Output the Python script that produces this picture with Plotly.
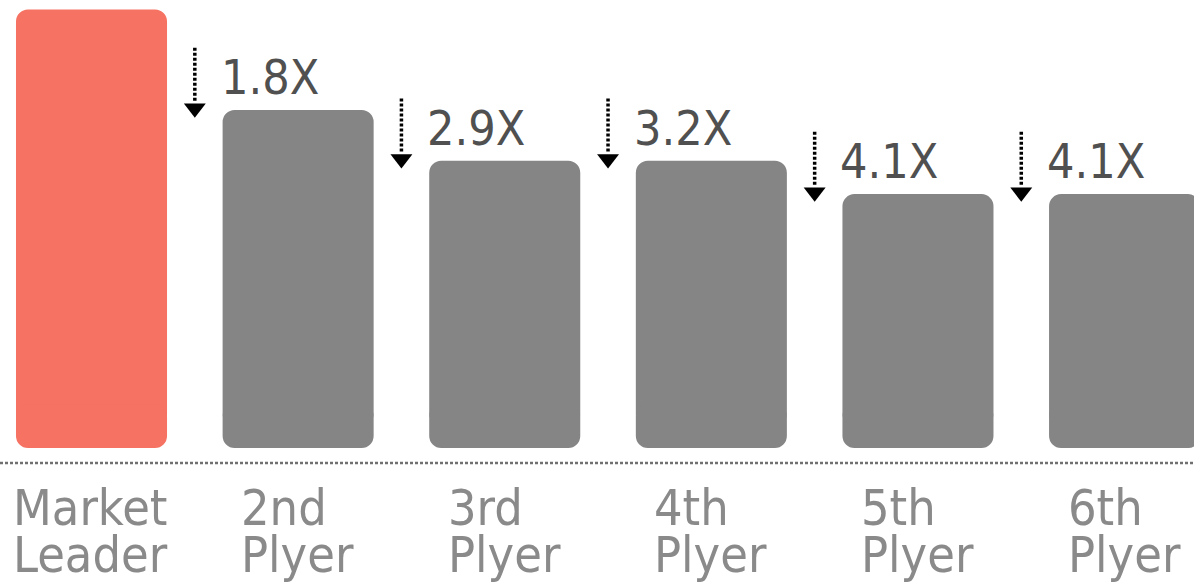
import plotly.graph_objects as go

# ---- data ----
categories = ["Market Leader", "2nd Plyer", "3rd Plyer", "4th Plyer", "5th Plyer", "6th Plyer"]
label_line1 = ["Market", "2nd", "3rd", "4th", "5th", "6th"]
label_line2 = ["Leader", "Plyer", "Plyer", "Plyer", "Plyer", "Plyer"]
values = [100, 77.1, 65.5, 65.5, 57.9, 57.9]
multipliers = ["", "1.8X", "2.9X", "3.2X", "4.1X", "4.1X"]

# ---- style ----
FONT = "DejaVu Sans Condensed, Liberation Sans Narrow, sans-serif"
LEADER_COLOR = "#F67262"
OTHER_COLOR = "#868586"
BAR_W = 0.731
W, H = 1194, 587
YR = [-31.7, 102.17]
XR = [-0.4429, 5.336]

x = list(range(len(categories)))
colors = [LEADER_COLOR] + [OTHER_COLOR] * (len(categories) - 1)

fig = go.Figure()
BOT = 10  # height of bottom-rounded part
fig.add_trace(go.Bar(x=x, y=[v - BOT / 2 for v in values], base=BOT / 2, width=BAR_W,
                     marker=dict(color=colors, cornerradius=12, line=dict(width=0)),
                     hoverinfo="skip", showlegend=False))
fig.add_trace(go.Bar(x=x, y=[-BOT] * len(values), base=BOT, width=BAR_W,
                     marker=dict(color=colors, cornerradius=12, line=dict(width=0)),
                     hoverinfo="skip", showlegend=False))

# arrows between bars
for i in range(1, len(values)):
    v = values[i]
    xa = i - 0.5
    fig.add_trace(go.Scatter(x=[xa, xa], y=[v + 14.2, v + 2.0], mode="lines",
                             line=dict(color="black", width=3.5, dash="3px,2px"),
                             hoverinfo="skip", showlegend=False))
    fig.add_trace(go.Scatter(x=[xa], y=[v + 0.4], mode="markers",
                             marker=dict(symbol="triangle-down", size=19, color="black",
                                         line=dict(width=0)),
                             hoverinfo="skip", showlegend=False))
    fig.add_annotation(x=i - BAR_W / 2, y=v, xref="x", yref="y", text=multipliers[i],
                       xanchor="left", yanchor="bottom", xshift=-4, yshift=3, showarrow=False,
                       font=dict(family=FONT, size=48, color="#505050"))

# baseline dotted line
fig.add_shape(type="line", xref="paper", yref="y", x0=0, x1=1, y0=-3.4, y1=-3.4,
              line=dict(color="#707070", width=2.5, dash="3px,2px"))

# category labels (two lines, left aligned, block centered)
block_w = [156, 112, 112, 112, 112, 112]
for i in range(len(categories)):
    for line_txt, ypx in ((label_line1[i], 527), (label_line2[i], 574)):
        fig.add_annotation(x=i, y=1 - (ypx + 12) / H, xref="x", yref="paper",
                           text=line_txt, xanchor="left", yanchor="bottom",
                           xshift=-block_w[i] / 2 - 3, align="left", showarrow=False,
                           font=dict(family=FONT, size=50, color="#8a8a8a"))

fig.update_layout(
    width=W, height=H, margin=dict(l=0, r=0, t=0, b=0),
    paper_bgcolor="white", plot_bgcolor="white", barmode="overlay",
    xaxis=dict(range=XR, visible=False, fixedrange=True),
    yaxis=dict(range=YR, visible=False, fixedrange=True),
    showlegend=False,
)
fig.write_html("out.html")
